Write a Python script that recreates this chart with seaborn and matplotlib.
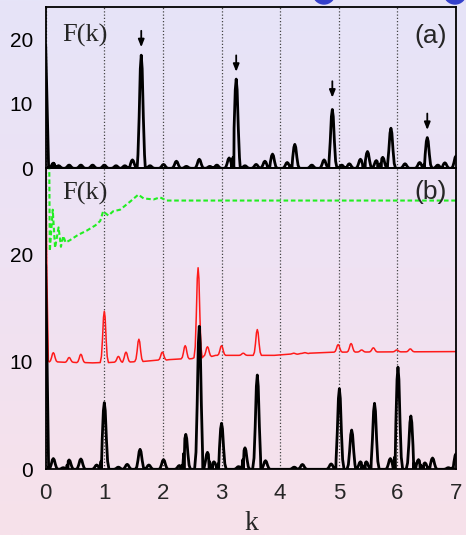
import numpy as np
import pandas as pd
import matplotlib
matplotlib.use("Agg")
import matplotlib.pyplot as plt
import seaborn as sns
from matplotlib.patches import Ellipse
from matplotlib.colors import LinearSegmentedColormap

sns.set_style("white")
plt.rcParams['font.family'] = ['Liberation Sans', 'DejaVu Sans']

# ---------------- data ----------------
# panel (a): black spectrum
a_head_k = [0.0, 0.03, 0.055]
a_head_v = [19.0, 8.0, 0.2]
a_pk_k = [0.13, 0.22, 0.40, 0.60, 0.80, 1.00, 1.20, 1.35, 1.48, 1.63, 1.78, 2.01, 2.23,
          2.40, 2.62, 2.80, 2.92, 3.13, 3.25, 3.40, 3.59, 3.74, 3.87, 4.12, 4.25, 4.54,
          4.75, 4.89, 5.05, 5.18, 5.37, 5.49, 5.64, 5.75, 5.89, 6.13, 6.38, 6.51, 6.69,
          6.81, 7.00]
a_pk_h = [0.8, 0.4, 0.5, 0.5, 0.5, 0.5, 0.4, 0.4, 1.3, 17.5, 0.4, 0.6, 1.1,
          0.3, 1.4, 0.3, 0.5, 1.6, 13.8, 0.4, 0.6, 1.1, 2.2, 0.9, 3.7, 0.5,
          1.3, 9.1, 0.5, 0.7, 1.4, 2.6, 1.2, 1.7, 6.2, 0.7, 0.9, 4.75, 0.5,
          0.85, 1.9]
a_base_k = [0.06, 7.0]
a_base_v = [0.0, 0.0]
arrow_k = [1.63, 3.25, 4.89, 6.51]
arrow_tip = [18.3, 14.5, 10.5, 5.5]

# panel (b): black spectrum
b_head_k = [0.0, 0.03, 0.055]
b_head_v = [19.0, 8.0, 0.2]
b_pk_k = [0.13, 0.30, 0.40, 0.60, 0.87, 1.00, 1.24, 1.39, 1.61, 1.76, 2.01, 2.28, 2.39,
          2.62, 2.76, 2.87, 3.00, 3.29, 3.40, 3.61, 3.75, 4.24, 4.38, 4.87, 5.01, 5.22,
          5.37, 5.47, 5.61, 5.88, 6.01, 6.23, 6.36, 6.47, 6.60, 6.87, 7.00]
b_pk_h = [1.0, 0.15, 0.87, 0.96, 0.4, 6.2, 0.2, 0.46, 1.86, 0.4, 0.9, 0.35, 3.25,
          13.3, 1.58, 0.7, 4.28, 0.25, 2.0, 8.77, 0.8, 0.2, 0.45, 0.5, 7.5, 3.65,
          0.7, 0.7, 6.14, 1.0, 9.5, 4.96, 0.9, 0.6, 1.05, 0.15, 1.45]
b_base_k = [0.06, 7.0]
b_base_v = [0.0, 0.0]

# panel (b): red spectrum
r_head_k = [0.0, 0.02, 0.045]
r_head_v = [30.0, 18.0, 10.1]
r_pk_k = [0.13, 0.40, 0.60, 1.00, 1.24, 1.37, 1.59, 1.99, 2.38, 2.60, 2.76, 3.00,
          3.37, 3.61, 4.23, 4.42, 4.99, 5.21, 5.39, 5.59, 5.99, 6.22]
r_pk_h = [10.85, 10.4, 10.7, 14.7, 10.5, 10.9, 12.1, 10.9, 11.5, 18.75, 11.4, 11.5,
          10.8, 13.0, 10.8, 10.85, 11.6, 11.7, 11.1, 11.3, 11.1, 11.2]
r_base_k = [0.06, 0.80, 1.50, 2.10, 2.50, 2.90, 3.30, 3.90, 4.50, 5.00, 7.00]
r_base_v = [10.0, 9.9, 10.0, 10.2, 10.3, 10.6, 10.6, 10.6, 10.8, 10.9, 10.95]

# panel (b): green dashed curve
g_k = [0.06, 0.07, 0.12, 0.16, 0.22, 0.26, 0.30, 0.34, 0.41, 0.55, 0.70, 0.85, 0.93,
       0.98, 1.07, 1.15, 1.27, 1.44, 1.58, 1.67, 1.84, 1.95, 2.06, 7.00]
g_v = [29.0, 20.3, 24.15, 20.6, 22.5, 20.7, 21.7, 21.1, 21.3, 21.8, 22.2, 22.7, 23.1,
       24.0, 23.6, 24.0, 24.15, 24.9, 25.55, 25.2, 25.1, 25.3, 25.0, 25.0]

y_major = [0, 10, 20]
x_ticks = [0, 1, 2, 3, 4, 5, 6, 7]


def build(head_k, head_v, pk_k, pk_h, base_k, base_v, w=0.08):
    """Polyline through the read-off peak tops and baseline knots."""
    prof_x = np.array([-1.0, -0.7, -0.45, -0.2, 0.0, 0.2, 0.45, 0.7, 1.0])
    prof_f = np.array([0.0, 0.12, 0.45, 0.88, 1.0, 0.88, 0.45, 0.12, 0.0])
    ks, vs = list(head_k), list(head_v)
    pk_k = np.asarray(pk_k)
    for bk, bv in zip(base_k, base_v):
        if np.all(np.abs(pk_k - bk) > w):
            ks.append(bk)
            vs.append(bv)
    for c, h in zip(pk_k, pk_h):
        b = np.interp(c, base_k, base_v)
        ks.extend(c + prof_x * w)
        vs.extend(b + prof_f * (h - b))
    ks = np.array(ks)
    vs = np.array(vs)
    o = np.argsort(ks, kind="stable")
    return pd.DataFrame({"k": ks[o], "F": vs[o]})


dfa = build(a_head_k, a_head_v, a_pk_k, a_pk_h, a_base_k, a_base_v)
dfb = build(b_head_k, b_head_v, b_pk_k, b_pk_h, b_base_k, b_base_v)
dfr = build(r_head_k, r_head_v, r_pk_k, r_pk_h, r_base_k, r_base_v, w=0.07)
dfg = pd.DataFrame({"k": g_k, "F": g_v})

# ---------------- figure ----------------
W, H = 466, 535
fig = plt.figure(figsize=(W / 100, H / 100), dpi=100)

# background gradient
bg = fig.add_axes([0, 0, 1, 1], zorder=-10)
cmap = LinearSegmentedColormap.from_list("bg", ["#e6e4f8", "#efe2f3", "#f7e1ea"])
bg.imshow(np.linspace(0, 1, 256).reshape(-1, 1), aspect="auto", cmap=cmap,
          extent=[0, 1, 0, 1])
bg.axis("off")

left = 45.7 / W
width = (456 - 45.7) / W
ax_a = fig.add_axes([left, 1 - 168.3 / H, width, (168.3 - 6.7) / H])
ax_b = fig.add_axes([left, 1 - 469.3 / H, width, (469.3 - 168.3) / H])

for ax in (ax_a, ax_b):
    ax.set_facecolor("none")
    ax.set_xlim(0, 7)
    ax.set_xticks(x_ticks)
    ax.set_yticks(y_major)
    ax.set_yticks([5, 15, 25], minor=True)
    ax.tick_params(axis="y", which="major", direction="in", length=11, width=1,
                   labelsize=15, pad=9, colors="black")
    ax.tick_params(axis="y", which="minor", direction="in", length=6, width=1)
    ax.tick_params(axis="x", which="both", length=0)
    ax.grid(axis="x", ls=(0, (1, 1.6)), color="#444444", lw=0.9)
    ax.grid(axis="y", visible=False)
    for s in ax.spines.values():
        s.set_color("black")
        s.set_linewidth(1.3)

# panel (a)
sns.lineplot(data=dfa, x="k", y="F", ax=ax_a, sort=False, estimator=None,
             color="black", lw=2.0)
ax_a.set_ylim(0, 25)
ax_a.set_xlabel("")
ax_a.set_ylabel("")
ax_a.tick_params(axis="x", labelbottom=False)
for kk, tip in zip(arrow_k, arrow_tip):
    ax_a.annotate("", xy=(kk, tip), xytext=(kk, tip + 3.4),
                  arrowprops=dict(arrowstyle="-|>,head_length=0.45,head_width=0.18",
                                  color="black", lw=1.3))
ax_a.text(0.040, 0.825, "F(k)", transform=ax_a.transAxes, ha="left", va="center",
          fontsize=19, family="Liberation Serif")
ax_a.text(0.978, 0.82, "(a)", transform=ax_a.transAxes, ha="right", va="center",
          fontsize=19)

# panel (b)
sns.lineplot(data=dfg, x="k", y="F", ax=ax_b, sort=False, estimator=None,
             color="#22ee22", lw=1.5, dashes=False)
ax_b.lines[-1].set_linestyle((0, (2.2, 1.3)))
sns.lineplot(data=dfr, x="k", y="F", ax=ax_b, sort=False, estimator=None,
             color="#ff1a1a", lw=1.1)
sns.lineplot(data=dfb, x="k", y="F", ax=ax_b, sort=False, estimator=None,
             color="black", lw=2.0)
ax_b.set_ylim(0, 28)
ax_b.set_xlabel("")
ax_b.set_ylabel("")
ax_b.tick_params(axis="x", labelsize=16, pad=10)
ax_b.text(0.040, 0.918, "F(k)", transform=ax_b.transAxes, ha="left", va="center",
          fontsize=19, family="Liberation Serif")
ax_b.text(0.978, 0.921, "(b)", transform=ax_b.transAxes, ha="right", va="center",
          fontsize=19)

fig.text(251 / W, 1 - 524 / H, "k", ha="center", va="center", fontsize=20,
         family="Liberation Serif")

# decorative blue discs cut by the top edge
for cx in (324, 455):
    fig.add_artist(Ellipse((cx / W, 1 + 7 / H), 22 / W, 22 / H,
                           transform=fig.transFigure, color="#3440cc", zorder=5))

fig.savefig("out.png", dpi=100)
